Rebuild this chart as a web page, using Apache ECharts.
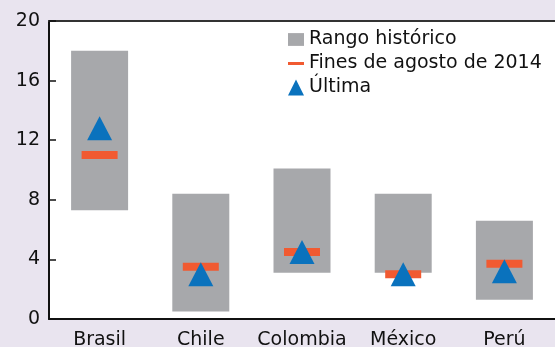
<!DOCTYPE html>
<html>
<head>
<meta charset="utf-8">
<script src="https://cdn.jsdelivr.net/npm/echarts@6/dist/echarts.min.js"></script>
<style>
html,body{margin:0;padding:0;background:#e9e4ef;}
#chart{width:555px;height:347px;}
</style>
</head>
<body>
<div id="chart"></div>
<script>
const categories = ['Brasil', 'Chile', 'Colombia', 'México', 'Perú'];
const rangoMin = [7.3, 0.5, 3.1, 3.1, 1.3];
const rangoMax = [18.0, 8.4, 10.1, 8.4, 6.6];
const finesAgosto = [11.0, 3.5, 4.5, 3.0, 3.7];
const ultima = [12.8, 3.0, 4.5, 3.0, 3.2];
const yTicks = [0, 4, 8, 12, 16, 20];

const FONT = 'DejaVu Sans';
const chart = echarts.init(document.getElementById('chart'));
chart.setOption({
  backgroundColor: '#e9e4ef',
  animation: false,
  grid: { left: 49, right: 0, top: 21, bottom: 28, show: true, backgroundColor: '#ffffff', borderWidth: 0, outerBoundsMode: 'none', containLabel: false },
  legend: {
    orient: 'vertical',
    left: 283,
    top: 25,
    itemWidth: 16,
    itemHeight: 16,
    itemGap: 5,
    textStyle: { fontFamily: FONT, fontSize: 19, color: '#111' },
    data: [
      { name: 'Rango histórico', icon: 'path://M0,0H15V12H0Z' },
      { name: 'Fines de agosto de 2014', icon: 'path://M0,0H16V3H0Z' },
      { name: 'Última', icon: 'triangle' }
    ]
  },
  xAxis: [{
    type: 'category',
    data: categories,
    axisLine: { lineStyle: { color: '#111', width: 2 } },
    axisTick: { inside: true, length: 6, lineStyle: { color: '#111', width: 1.5 } },
    axisLabel: { interval: 0, fontFamily: FONT, fontSize: 19, color: '#111', margin: 12 }
  }, {
    type: 'category',
    data: categories,
    position: 'top',
    axisLine: { lineStyle: { color: '#333', width: 2 } },
    axisTick: { show: false },
    axisLabel: { show: false }
  }],
  yAxis: {
    type: 'value',
    min: yTicks[0],
    max: yTicks[yTicks.length - 1],
    interval: 4,
    axisLine: { show: true, lineStyle: { color: '#111', width: 2 } },
    axisTick: { show: true, inside: true, length: 7, lineStyle: { color: '#111', width: 1.5 } },
    splitLine: { show: false },
    axisLabel: { fontFamily: FONT, fontSize: 19, color: '#111', margin: 9 }
  },
  series: [
    {
      name: 'base',
      type: 'bar',
      stack: 'rango',
      barWidth: 57,
      itemStyle: { color: 'transparent' },
      data: rangoMin,
      silent: true
    },
    {
      name: 'Rango histórico',
      type: 'bar',
      stack: 'rango',
      barWidth: 57,
      itemStyle: { color: '#a7a8ab' },
      data: rangoMax.map((v, i) => +(v - rangoMin[i]).toFixed(2))
    },
    {
      name: 'Fines de agosto de 2014',
      type: 'scatter',
      symbol: 'rect',
      symbolSize: [36, 8],
      itemStyle: { color: '#f15a31', opacity: 1 },
      data: finesAgosto,
      z: 3
    },
    {
      name: 'Última',
      type: 'scatter',
      symbol: 'triangle',
      symbolSize: [25, 24],
      itemStyle: { color: '#0a72bd', opacity: 1 },
      data: ultima,
      z: 4
    }
  ]
});
</script>
</body>
</html>
